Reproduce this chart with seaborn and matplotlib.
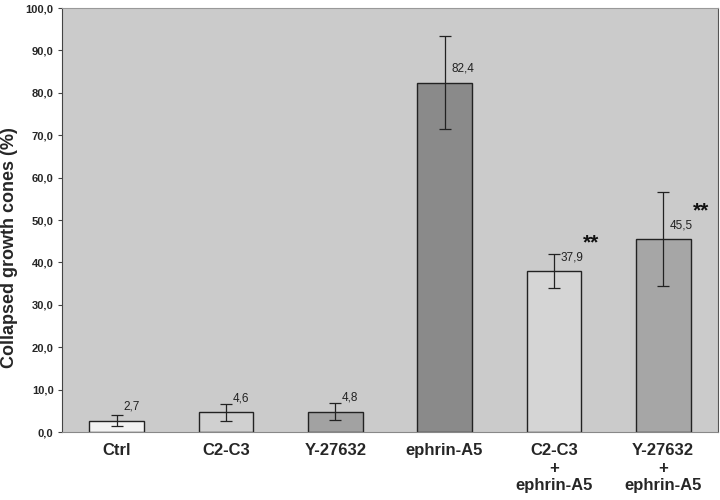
import numpy as np
import pandas as pd
import matplotlib
matplotlib.use("Agg")
import matplotlib.pyplot as plt
import seaborn as sns

# dados
categorias = ["Ctrl", "C2-C3", "Y-27632", "ephrin-A5",
              "C2-C3\n+\nephrin-A5", "Y-27632\n+\nephrin-A5"]
valores = [2.7, 4.6, 4.8, 82.4, 37.9, 45.5]
erros = [1.4, 2.1, 2.0, 11.0, 4.0, 11.0]
rotulos = ["2,7", "4,6", "4,8", "82,4", "37,9", "45,5"]
significancia = ["", "", "", "", "**", "**"]
cores = ["#f2f2f2", "#d0d0d0", "#a2a2a2", "#8a8a8a", "#d5d5d5", "#a6a6a6"]

df = pd.DataFrame({"grupo": categorias, "valor": valores})

sns.set_style("white")
plt.rcParams['font.family'] = ['Liberation Sans', 'DejaVu Sans']

fig = plt.figure(figsize=(7.2, 5), dpi=100)
ax = fig.add_axes([0.086, 0.136, 0.911, 0.848])
ax.set_facecolor("#cbcbcb")

sns.barplot(data=df, x="grupo", y="valor", hue="grupo", palette=cores,
            width=0.5, edgecolor="#222222", linewidth=1.0, legend=False,
            errorbar=None, ax=ax)

ax.errorbar(np.arange(len(valores)), valores, yerr=erros, fmt="none",
            ecolor="#222222", elinewidth=0.9, capsize=4, capthick=0.9)

for i, (v, r, s) in enumerate(zip(valores, rotulos, significancia)):
    ax.text(i + 0.06, v + 3.3, r, fontsize=8.5, color="#222222",
            ha="left", va="center")
    if s:
        ax.text(i + 0.27, v + 6.6, s, fontsize=15, color="#111111",
                ha="left", va="center", fontweight="bold")

ax.set_xlim(-0.5, 5.5)
ax.set_ylim(0, 100)
ax.set_yticks(np.arange(0, 101, 10))
ax.set_yticklabels([f"{t:.1f}".replace(".", ",") for t in np.arange(0, 101, 10)],
                   fontsize=8, fontweight="bold")
ax.set_xticks(range(len(categorias)))
ax.set_xticklabels(categorias, fontsize=12, fontweight="bold", linespacing=1.2, va="top")
ax.tick_params(axis="x", length=0, pad=8)
ax.tick_params(axis="y", length=3, color="#444444", left=True, pad=3)
ax.set_xlabel("")
ax.set_ylabel("Collapsed growth cones (%)", fontsize=13, fontweight="bold")
ax.yaxis.set_label_coords(-0.067, 0.435)

ax.spines["top"].set_color("#999999")
ax.spines["right"].set_color("#555555")
ax.spines["left"].set_color("#444444")
ax.spines["bottom"].set_color("#888888")

fig.savefig("out.png", dpi=100)
